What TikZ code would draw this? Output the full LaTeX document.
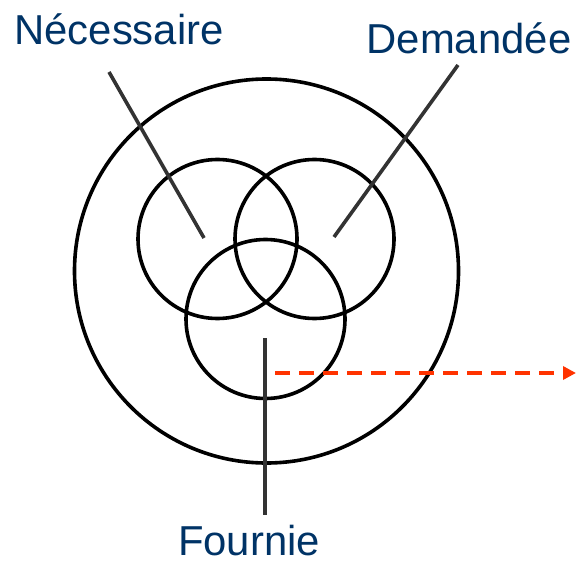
\documentclass[tikz,border=0pt]{standalone}
\usepackage{fontspec}
\setmainfont{Liberation Sans}
\usetikzlibrary{arrows.meta}
\definecolor{cnavy}{HTML}{003366}
\definecolor{cline}{HTML}{333333}
\definecolor{cred}{HTML}{FF3300}
\tikzset{
  every picture/.style={x=1bp, y=-1bp},
  ring/.style={draw=black, circle, inner sep=0pt, line width=3.6bp, minimum size=#1},
  lbl/.style={text=cnavy, anchor=base, inner sep=0pt, font=\fontsize{42}{50}\selectfont},
  pointer/.style={draw=cline, line width=3.6bp},
  flow/.style={draw=cred, line width=3.6bp, dash pattern=on 15bp off 9bp, -{Triangle[length=13bp, width=13bp]}},
}
\begin{document}
\begin{tikzpicture}
  \useasboundingbox (0,0) rectangle (576,562);
  % outer ring and the three sets
  \node[ring=384bp] (all) at (266.5,271) {};
  \node[ring=159bp] (nec) at (217.5,239) {};
  \node[ring=159bp] (dem) at (314.5,239) {};
  \node[ring=159bp] (fou) at (265.5,319) {};
  % labels
  \node[lbl] (tnec) at (119,45) {Nécessaire};
  \node[lbl] (tdem) at (469,54) {Demandée};
  \node[lbl] (tfou) at (249,555) {Fournie};
  % pointers
  \coordinate (pnec0) at (109,72);
  \coordinate (pnec1) at (204,238);
  \coordinate (pdem0) at (458,65);
  \coordinate (pdem1) at (334,237);
  \coordinate (pfou0) at (265,338);
  \coordinate (pfou1) at (265,515);
  \draw[pointer] (pnec0) -- (pnec1);
  \draw[pointer] (pdem0) -- (pdem1);
  \draw[pointer] (pfou0) -- (pfou1);
  % dashed exit
  \coordinate (out0) at (275,373);
  \coordinate (out1) at (576,373);
  \draw[flow] (out0) -- (out1);
\end{tikzpicture}
\end{document}
